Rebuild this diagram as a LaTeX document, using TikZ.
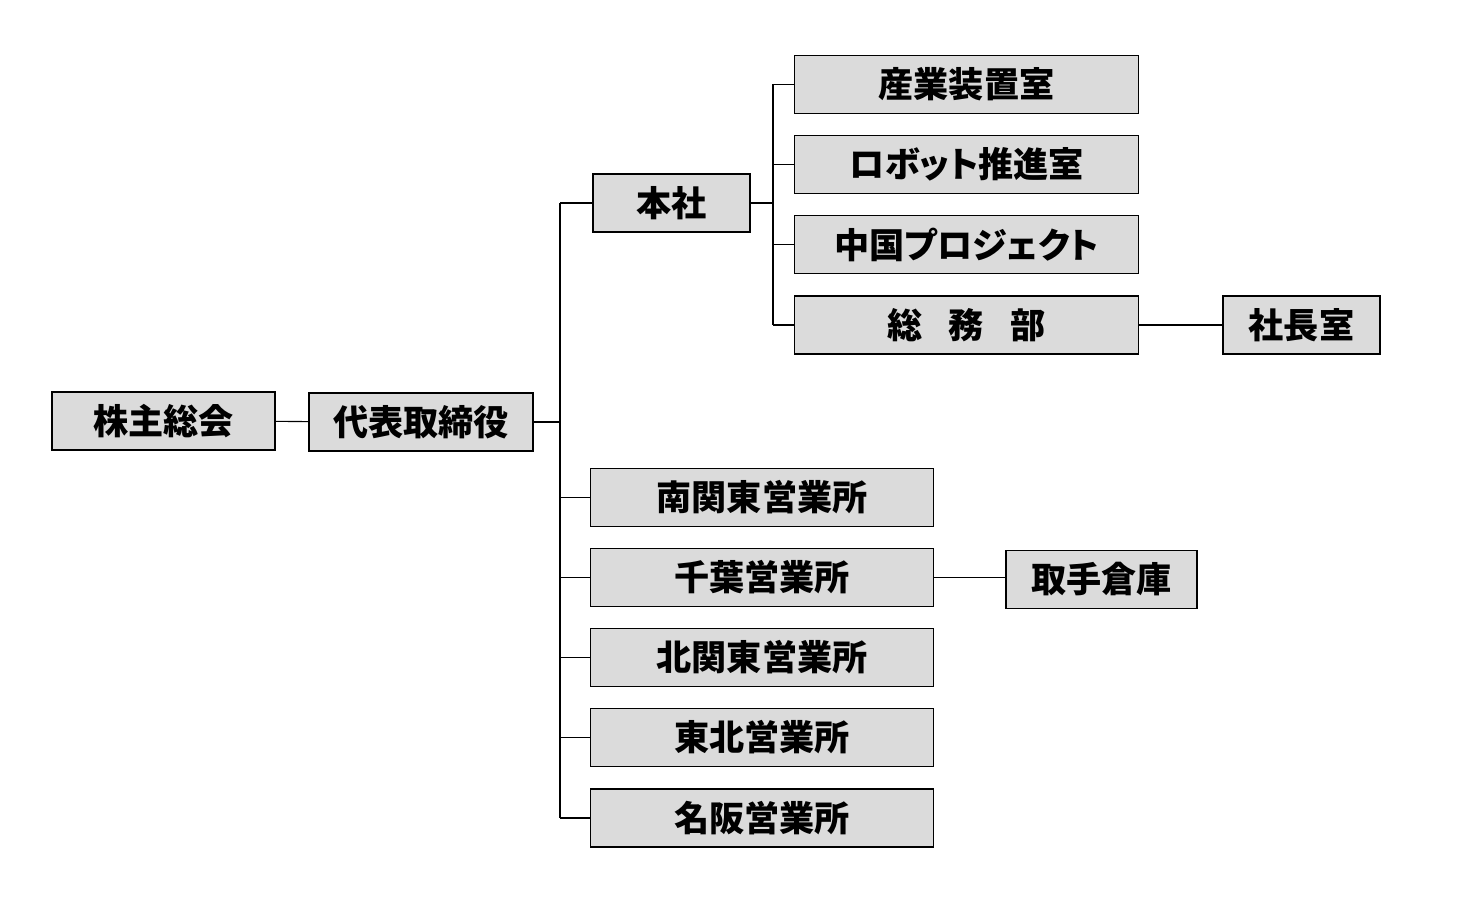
\documentclass[tikz,border=0pt]{standalone}
\usepackage{fontspec}
\setmainfont{Noto Sans CJK JP}
\newfontfamily\propfont{Noto Sans CJK JP}[RawFeature=+palt]
\usetikzlibrary{positioning}

\begin{document}
\begin{tikzpicture}[
  org box/.style = {
    draw=black, line width=0.8pt, fill=black!14,
    minimum height=1.16cm, inner sep=0pt,
    font=\fontsize{20}{24}\selectfont\bfseries
  },
  narrow box/.style = {org box, minimum width=3.14cm},
  wide box/.style   = {org box, minimum width=6.87cm},
  kana box/.style   = {wide box, font=\propfont\fontsize{20}{24}\selectfont\bfseries},
  link/.style = {line width=0.6pt, draw=black},
]
\useasboundingbox (0,0) rectangle (29.16,18.28);

% top levels
\node[org box, minimum width=4.46cm] (kabunushi) at (3.27,9.86)  {株主総会};
\node[org box, minimum width=4.48cm] (daihyo)    at (8.42,9.84)  {代表取締役};
\node[narrow box] (honsha) at (13.43,14.22) {本社};

% head office
\node[wide box] (sangyo) at (19.33,16.59) {産業装置室};
\node[kana box] (robot)  at (19.33,14.99) {ロボット推進室};
\node[kana box] (china)  at (19.33,13.39) {中国プロジェクト};
\node[wide box] (somu)   at (19.33,11.78) {総\hspace{0.75em}務\hspace{0.75em}部};
\node[narrow box] (shacho) at (26.03,11.78) {社長室};

% branches
\node[wide box] (minami) at (15.24,8.33) {南関東営業所};
\node[wide box] (chiba)  at (15.24,6.73) {千葉営業所};
\node[wide box] (kita)   at (15.24,5.13) {北関東営業所};
\node[wide box] (tohoku) at (15.24,3.53) {東北営業所};
\node[wide box] (meihan) at (15.24,1.92) {名阪営業所};
\node[org box, minimum width=3.82cm] (toride) at (22.03,6.69) {取手倉庫};

\coordinate (bus-a) at (11.2,0);
\coordinate (bus-b) at (15.46,0);

\draw[link] (kabunushi) -- (daihyo);
\draw[link] (daihyo.east) -- (bus-a |- daihyo.east);
\draw[link] (bus-a |- honsha.west) -- (bus-a |- meihan.west);
\foreach \n in {honsha, minami, chiba, kita, tohoku, meihan}
  \draw[link] (bus-a |- \n.west) -- (\n.west);

\draw[link] (honsha.east) -- (bus-b |- honsha.east);
\draw[link] (bus-b |- sangyo.west) -- (bus-b |- somu.west);
\foreach \n in {sangyo, robot, china, somu}
  \draw[link] (bus-b |- \n.west) -- (\n.west);

\draw[link] (somu) -- (shacho);
\draw[link] (chiba.east) -- (chiba.east -| toride.west);

\end{tikzpicture}
\end{document}
